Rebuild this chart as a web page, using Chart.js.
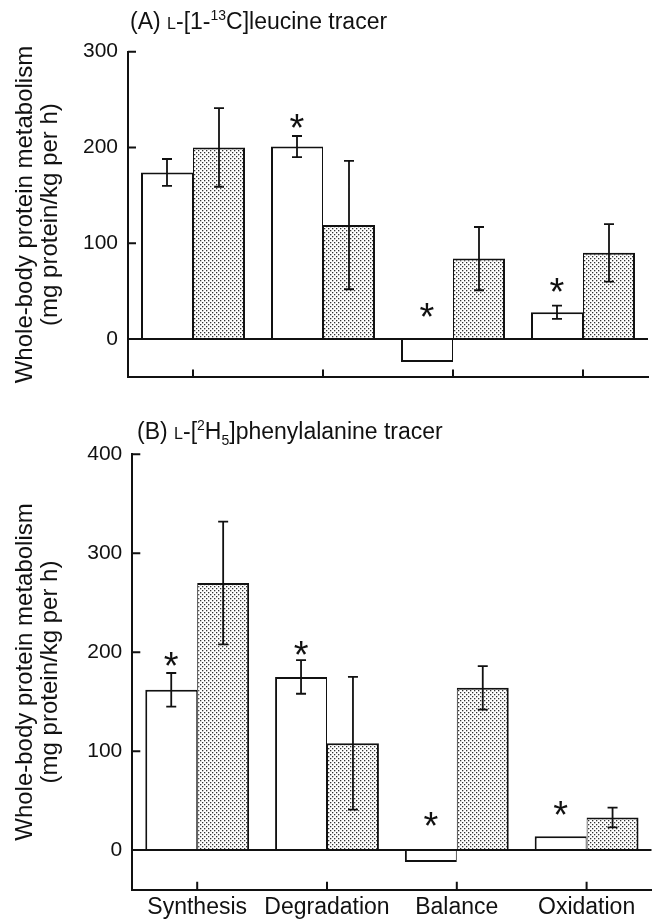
<!DOCTYPE html>
<html>
<head>
<meta charset="utf-8">
<script src="https://cdn.jsdelivr.net/npm/chart.js@4.4.0/dist/chart.umd.min.js"></script>
<style>
  html, body { margin: 0; padding: 0; background: #fff; }
  body { width: 655px; height: 921px; position: relative; overflow: hidden;
         font-family: "Liberation Sans", Arial, sans-serif; color: #111; }
  canvas { position: absolute; left: 0; }
  .title { position: absolute; font-size: 23px; line-height: 26px; white-space: nowrap; }
  .sc { font-size: 16px; }
  sup, sub { font-size: 14px; line-height: 0; }
</style>
</head>
<body>
<canvas id="chartA" style="top:0" width="655" height="400"></canvas>
<canvas id="chartB" style="top:400px" width="655" height="521"></canvas>
<div class="title" style="left:130px; top:8px">(A) <span class="sc">L</span>-[1-<sup>13</sup>C]leucine tracer</div>
<div class="title" style="left:137px; top:418px">(B) <span class="sc">L</span>-[<sup>2</sup>H<sub>5</sub>]phenylalanine tracer</div>
<script>
const categories = ['Synthesis', 'Degradation', 'Balance', 'Oxidation'];

// (A) L-[1-13C]leucine tracer
const leuTicks = [0, 100, 200, 300];
const leuWhite = [174, 201, -24, 28];
const leuWhiteSE = [14, 11, null, 7];
const leuDotted = [200, 119, 84, 90];
const leuDottedSE = [41, 67, 33, 30];
const leuStars = [null, 230, 32, 59];

// (B) L-[2H5]phenylalanine tracer
const pheTicks = [0, 100, 200, 300, 400];
const pheWhite = [162, 175, -12, 14];
const pheWhiteSE = [17, 17, null, null];
const pheDotted = [270, 108, 164, 33];
const pheDottedSE = [62, 67, 22, 10];
const pheStars = [195, 206, 34, 45];

const yTitle = ['Whole-body protein metabolism', '(mg protein/kg per h)'];

const INK = '#111';
const CAP = 5;
Chart.defaults.font.family = '"Liberation Sans", Arial, sans-serif';
Chart.defaults.color = INK;

// stippled fill of the second bar in each pair
function dotPattern() {
    const c = document.createElement('canvas');
    c.width = 4; c.height = 4;
    const g = c.getContext('2d');
    g.fillStyle = '#fff';
    g.fillRect(0, 0, 4, 4);
    g.fillStyle = '#333';
    g.fillRect(0, 0, 1.3, 1.3);
    g.fillRect(2, 2, 1.3, 1.3);
    return g.createPattern(c, 'repeat');
}

// error bars, asterisks and the inward tick marks
function decor(seLists, stars) {
    return {
        id: 'decor',
        afterDatasetsDraw(chart) {
            const ctx = chart.ctx, x = chart.scales.x, y = chart.scales.y, area = chart.chartArea;
            ctx.save();
            ctx.strokeStyle = INK;
            ctx.lineWidth = 1.8;
            ctx.beginPath();
            chart.data.datasets.forEach((ds, d) => {
                chart.getDatasetMeta(d).data.forEach((bar, i) => {
                    const se = seLists[d][i];
                    if (se == null) return;
                    const hi = y.getPixelForValue(ds.data[i] + se);
                    const lo = y.getPixelForValue(ds.data[i] - se);
                    ctx.moveTo(bar.x, hi); ctx.lineTo(bar.x, lo);
                    ctx.moveTo(bar.x - CAP, hi); ctx.lineTo(bar.x + CAP, hi);
                    ctx.moveTo(bar.x - CAP, lo); ctx.lineTo(bar.x + CAP, lo);
                });
            });
            ctx.stroke();

            const white = chart.getDatasetMeta(0).data;
            const fs = 38;
            ctx.fillStyle = INK;
            ctx.font = fs + 'px "Liberation Sans", Arial, sans-serif';
            ctx.textAlign = 'center';
            ctx.textBaseline = 'alphabetic';
            stars.forEach((v, i) => {
                if (v == null) return;
                ctx.fillText('*', white[i].x, y.getPixelForValue(v) + 0.58 * fs);
            });

            ctx.lineWidth = 2;
            ctx.beginPath();
            y.ticks.forEach(t => {
                const py = y.getPixelForValue(t.value);
                ctx.moveTo(area.left, py); ctx.lineTo(area.left + 8, py);
            });
            x.ticks.forEach((t, i) => {
                const px = x.getPixelForTick(i);
                ctx.moveTo(px, area.bottom); ctx.lineTo(px, area.bottom - 8);
            });
            ctx.stroke();
            ctx.restore();
        }
    };
}

function buildChart(id, cfg) {
    const pattern = dotPattern();
    return new Chart(document.getElementById(id), {
        type: 'bar',
        data: {
            labels: categories,
            datasets: [
                { data: cfg.white, backgroundColor: '#fff', borderColor: INK,
                  borderWidth: { left: 2, right: 1, top: 2, bottom: 2 } },
                { data: cfg.dotted, backgroundColor: pattern, borderColor: INK,
                  borderWidth: { left: 1, right: 2, top: 2, bottom: 2 } }
            ]
        },
        options: {
            responsive: false,
            animation: false,
            devicePixelRatio: 1,
            layout: { padding: { top: cfg.top, right: cfg.right, bottom: cfg.bottom, left: 0 } },
            plugins: { legend: { display: false }, tooltip: { enabled: false } },
            datasets: { bar: { categoryPercentage: 0.8, barPercentage: 1.0 } },
            scales: {
                x: {
                    grid: { display: false },
                    border: { display: true, color: INK, width: 2 },
                    ticks: { display: cfg.showLabels, color: INK, font: { size: 23, lineHeight: 1.0 },
                             padding: -2, maxRotation: 0, minRotation: 0, autoSkip: false },
                    afterFit: s => { s.height = cfg.xHeight; }
                },
                y: {
                    min: -40,
                    max: cfg.yMax,
                    afterBuildTicks: s => { s.ticks = cfg.ticks.map(v => ({ value: v })); },
                    afterFit: s => { s.width = cfg.yWidth; },
                    grid: {
                        drawTicks: false,
                        lineWidth: 2,
                        color: c => (c.tick && c.tick.value === 0) ? INK : 'rgba(0,0,0,0)'
                    },
                    border: { display: true, color: INK, width: 2 },
                    ticks: { color: INK, font: { size: 21 }, padding: 10 },
                    title: {
                        display: true,
                        text: yTitle,
                        color: INK,
                        font: { size: 24, lineHeight: 1.04 },
                        padding: { top: 12.5, bottom: 0 }
                    }
                }
            }
        },
        plugins: [decor(cfg.se, cfg.stars)]
    });
}

buildChart('chartA', {
    white: leuWhite, dotted: leuDotted, se: [leuWhiteSE, leuDottedSE], stars: leuStars,
    ticks: leuTicks, yMax: 300, showLabels: false,
    top: 51.7, bottom: 15.5, right: 7, yWidth: 128, xHeight: 0
});

buildChart('chartB', {
    white: pheWhite, dotted: pheDotted, se: [pheWhiteSE, pheDottedSE], stars: pheStars,
    ticks: pheTicks, yMax: 400, showLabels: true,
    top: 54.3, bottom: 0, right: 3.5, yWidth: 132.3, xHeight: 31.3
});
</script>
</body>
</html>
